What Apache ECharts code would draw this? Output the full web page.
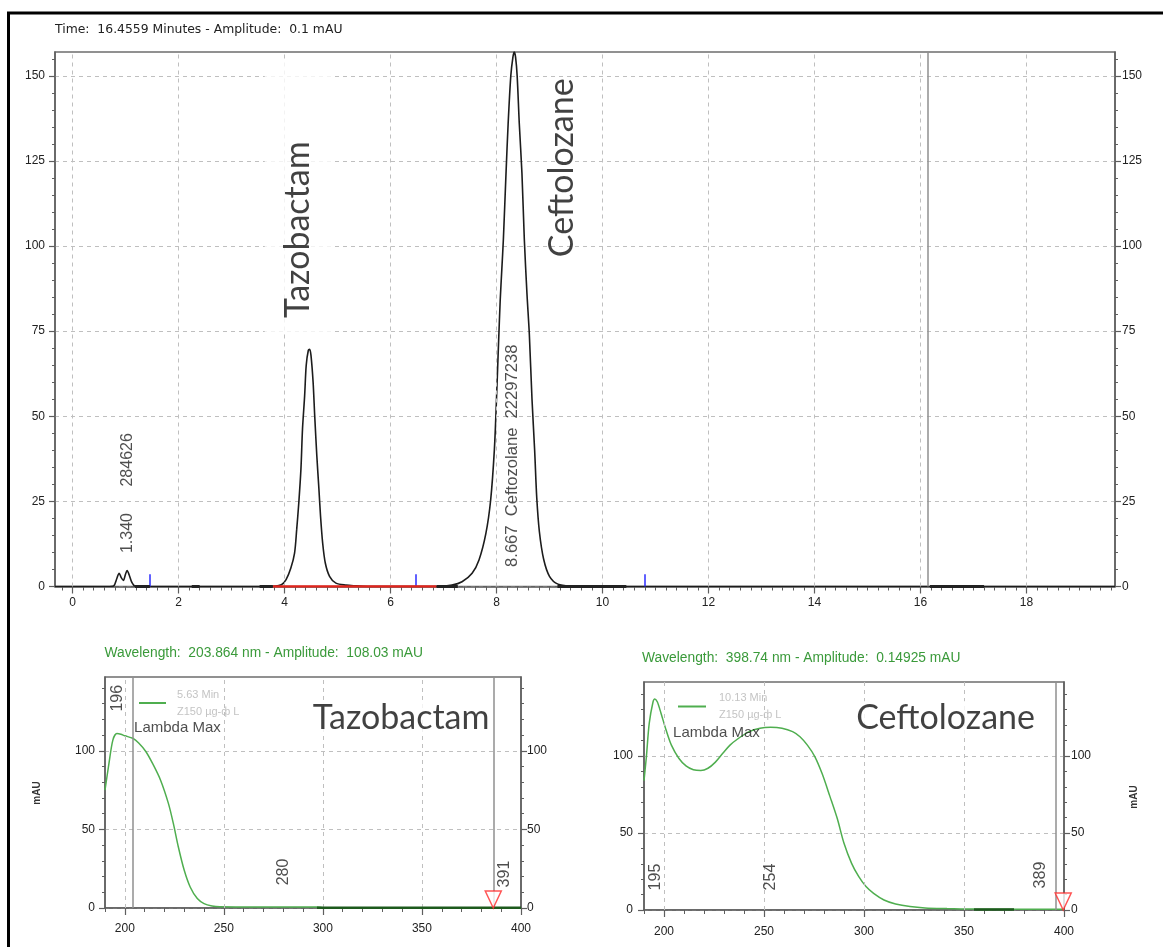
<!DOCTYPE html>
<html><head><meta charset="utf-8">
<script src="https://cdn.jsdelivr.net/npm/echarts@6/dist/echarts.min.js"></script>
<style>html,body{margin:0;padding:0;background:#fff}#c{width:1163px;height:947px}</style>
</head><body><div id="c"></div>
<script>
// ================= DATA =================
// Chromatogram: [time (min), amplitude (mAU)]
const chromPoints = [
  [-0.33,0],[0.70,0],[0.78,0.2],[0.84,2.5],[0.88,3.9],[0.92,2.6],[0.96,1.8],[1.00,3.6],[1.03,4.7],[1.07,3.4],[1.12,1.2],[1.18,0.1],[1.30,0],
  [3.70,0],[3.94,0.5],[4.03,2.0],[4.12,5.4],[4.19,9.8],[4.23,16.7],[4.27,24.6],[4.31,34.4],[4.34,46.3],[4.38,56.0],[4.41,65.0],[4.45,69.4],[4.475,69.7],[4.50,67.9],[4.54,60.0],[4.57,50.2],[4.61,38.4],[4.65,28.5],[4.68,20.7],[4.72,12.8],[4.77,6.9],[4.85,3.0],[4.97,1.0],[5.16,0.4],[5.35,0.2],[5.60,0],
  [6.90,0],[7.16,0.4],[7.35,1.4],[7.54,3.9],[7.67,7.8],[7.80,15.6],[7.89,25.4],[7.96,40.2],[8.00,55.0],[8.04,72.0],[8.07,84.0],[8.10,93.0],[8.13,102.0],[8.18,121.5],[8.22,136.0],[8.27,150.0],[8.31,155.5],[8.335,157.0],[8.36,155.5],[8.39,150.0],[8.43,136.0],[8.48,121.5],[8.525,102.0],[8.575,86.0],[8.62,74.0],[8.67,55.0],[8.72,40.0],[8.76,26.0],[8.81,16.0],[8.89,8.0],[9.00,3.0],[9.16,0.7],[9.44,0.1],[9.70,0],
  [19.67,0]
];
const baselineSegments = [[1.18,1.46],[2.25,2.40],[3.53,3.78],[6.87,7.27],[9.15,10.45],[16.18,17.20]];
const integrationBaseline = [[3.78,6.87]];
const peakMarkerTimes = [1.46, 6.475, 10.79];
const peakMarkerHeight = 3.6;
const cursorTime = 16.13;
const timeRange = [-0.33, 19.67];
const ampMax = 157;
const timeTicks = [0,2,4,6,8,10,12,14,16,18];
const ampTicks = [0,25,50,75,100,125,150];

// UV spectra: [wavelength (nm), amplitude (mAU)]
const tazoSpectrum = [
  [190,75],[192,92],[194,107],[196,111],[198,110.6],[200,109.6],[204,108],[207,105],[210.6,99.6],[214,92],[218,81.5],[222,66.6],[224.5,53.8],[227,39],[230,24],[233,13.4],[236.6,6],[240,2.8],[244,1.3],[248,0.8],[260,0.7],[280,0.7],[297,0.7],[300,0.2],[400,0.2]
];
const ceftoSpectrum = [
  [190,84],[191.2,99.6],[192.6,121],[194.5,135],[195.4,137],[196.7,135],[198.5,127.7],[201,117],[203.7,107],[207.4,98.5],[211,93.5],[214.7,91],[218.4,90.5],[222,92],[225.7,96],[229.4,101.7],[233,107],[236.8,111],[242.6,115.8],[248,118],[253.3,118.6],[259,118],[264.3,115.8],[268,112.5],[271.7,107],[275.4,99.6],[279,88.7],[283,73.6],[286.6,59.5],[290,43.3],[293.8,30.3],[297.4,21.6],[301,15.2],[304.8,10.8],[310,6.5],[315.8,3.9],[323,2.2],[330.5,1.3],[341.5,0.9],[355,0.6],[375,0.5],[400,0.5]
];
const tazoDarkSegments = [[297,400]];
const ceftoDarkSegments = [[355,375]];
const wlRange = [190, 400];
const wlTicks = [200,250,300,350,400];
const wlGrid = [200,250,300,350];
const specAmpTicks = [0,50,100];
const tazoSpecMax = 147, ceftoSpecMax = 148;
const tazoCursors = [203.864, 386];
const ceftoCursors = [396];
const tazoMarkerNm = 386, ceftoMarkerNm = 399.6;

// ================= STYLE / HELPERS =================
const FONT = 'Liberation Sans, Arial, sans-serif';
const AX = '#5e5e5e';
const GRIDC = '#bfbfbf';
const GREEN = '#4fae4f';
const DASH = [4,4];

function range(a, b, step, skip) {
  const out = [];
  for (let v = a; v <= b + 1e-9; v += step) {
    const r = Math.round(v * 1000) / 1000;
    if (!skip || skip.indexOf(r) < 0) out.push(r);
  }
  return out;
}
function segData(segs, y) {
  const d = [];
  segs.forEach(([a, b]) => { d.push([a, y], [b, y], [b, '-']); });
  return d;
}
function xAxes(grid, min, max, major, minor, margin) {
  return [
    {type:'value', gridIndex:grid, min, max, position:'bottom',
     axisLine:{show:true, onZero:false, lineStyle:{color:AX, width:1.5}},
     axisTick:{show:true, customValues:major, length:7, lineStyle:{color:AX, width:1.2}},
     axisLabel:{show:true, customValues:major, margin, color:'#222', fontSize:12, fontFamily:FONT},
     splitLine:{show:false}},
    {type:'value', gridIndex:grid, min, max, position:'bottom',
     axisLine:{show:false, onZero:false},
     axisTick:{show:true, customValues:minor, length:4, lineStyle:{color:AX, width:1}},
     axisLabel:{show:false}, splitLine:{show:false}}
  ];
}
function yAxes(grid, max, interval, major, minor, lm, rm) {
  const mk = (pos, m) => ([
    {type:'value', gridIndex:grid, min:0, max, interval, position:pos,
     axisLine:{show:true, onZero:false, lineStyle:{color:AX, width:1.5}},
     axisTick:{show:true, customValues:major, length:6, lineStyle:{color:AX, width:1.2}},
     axisLabel:{show:true, customValues:major, margin:m, color:'#222', fontSize:12, fontFamily:FONT},
     splitLine:{show: pos === 'left', lineStyle:{color:GRIDC, type:DASH, width:1}}},
    {type:'value', gridIndex:grid, min:0, max, position:pos,
     axisLine:{show:false, onZero:false},
     axisTick:{show:true, customValues:minor, length:3, lineStyle:{color:AX, width:1}},
     axisLabel:{show:false}, splitLine:{show:false}}
  ]);
  return mk('left', lm).concat(mk('right', rm));
}
function vLines(xs, style) {
  return xs.map(v => ({xAxis: v, lineStyle: style}));
}
const dashStyle = {color:GRIDC, type:DASH, width:1};
const cursorStyle = {color:'#8f8f8f', type:'solid', width:1.5};
function helperSeries(xi, yi, x0, lines) {
  return {type:'line', xAxisIndex:xi, yAxisIndex:yi, data:[[x0, 0]], symbol:'none',
    lineStyle:{opacity:0}, silent:true, z:1,
    markLine:{silent:true, symbol:['none','none'], label:{show:false}, animation:false, data:lines}};
}
function textSeries(xi, yi, items) {
  return {type:'scatter', xAxisIndex:xi, yAxisIndex:yi, symbol:'circle', symbolSize:1,
    itemStyle:{color:'rgba(0,0,0,0)'}, silent:true, z:10,
    label:{show:true, position:'inside', color:'#222', fontFamily:FONT, fontSize:16},
    data: items.map(it => ({value:[it[0], it[1]], label:Object.assign({formatter:it[2]}, it[3] || {})}))};
}

// ================= OPTION =================
const chart = echarts.init(document.getElementById('c'), null, {renderer:'canvas'});

const bigFont = {fontFamily:'Lato, Carlito, sans-serif', fontSize:34, color:'#111'};
const rot = {rotate:90};

const option = {
  animation:false,
  backgroundColor:'#fff',
  grid:[
    {left:55, top:52, width:1060, height:534.5, show:true, borderColor:'#6e6e6e', borderWidth:1.5},
    {left:105, top:677, width:416, height:231, show:true, borderColor:'#6e6e6e', borderWidth:1.5},
    {left:644, top:682, width:420, height:228, show:true, borderColor:'#6e6e6e', borderWidth:1.5}
  ],
  xAxis: []
    .concat(xAxes(0, timeRange[0], timeRange[1], timeTicks, range(-0.2, 19.6, 0.2, timeTicks), 10))
    .concat(xAxes(1, wlRange[0], wlRange[1], wlTicks, range(190, 400, 10, wlTicks), 15))
    .concat(xAxes(2, wlRange[0], wlRange[1], wlTicks, range(190, 400, 10, wlTicks), 16)),
  yAxis: []
    .concat(yAxes(0, ampMax, 25, ampTicks, range(5, 155, 5, ampTicks), 10, 7))
    .concat(yAxes(1, tazoSpecMax, 50, specAmpTicks, range(10, 140, 10, specAmpTicks), 10, 6))
    .concat(yAxes(2, ceftoSpecMax, 50, specAmpTicks, range(10, 140, 10, specAmpTicks), 11, 7)),
  legend:[
    {data:[{name:'tazo', icon:'rect'}], left:134, top:681, itemWidth:27, itemHeight:2,
     selectedMode:false, formatter:() => '5.63 Min\nZ150 µg-ф L',
     textStyle:{color:'#c4c4c4', fontSize:11, fontFamily:FONT, lineHeight:17, padding:[0,0,0,6]}},
    {data:[{name:'cefto', icon:'rect'}], left:673, top:684, itemWidth:28, itemHeight:2,
     selectedMode:false, formatter:() => '10.13 Min\nZ150 µg-ф L',
     textStyle:{color:'#c4c4c4', fontSize:11, fontFamily:FONT, lineHeight:17.5, padding:[0,0,0,8]}}
  ],
  series:[
    // ---------- chromatogram ----------
    helperSeries(0, 0, timeRange[0], vLines(timeTicks, dashStyle).concat(vLines([cursorTime], cursorStyle))),
    {type:'line', xAxisIndex:0, yAxisIndex:0, data:chromPoints, symbol:'none', smooth:0.3,
     lineStyle:{color:'#1c1c1c', width:1.6}, silent:true, z:4},
    {type:'line', xAxisIndex:0, yAxisIndex:0, data:segData(integrationBaseline, 0), symbol:'none',
     lineStyle:{color:'#e3241c', width:2.5}, silent:true, z:6},
    {type:'line', xAxisIndex:0, yAxisIndex:0, data:segData(baselineSegments, 0), symbol:'none',
     lineStyle:{color:'#222', width:3}, silent:true, z:6},
    {type:'line', xAxisIndex:0, yAxisIndex:0, data:[[timeRange[0], 0]], symbol:'none', lineStyle:{opacity:0}, silent:true, z:7,
     markLine:{silent:true, symbol:['none','none'], label:{show:false}, animation:false,
       lineStyle:{color:'#2b2bff', type:'solid', width:1.5},
       data: peakMarkerTimes.map(t => [{coord:[t, 0]}, {coord:[t, peakMarkerHeight]}])}},
    textSeries(0, 0, [
      [4.26, 114.5, 'Tazobactam', Object.assign({}, bigFont, rot, {backgroundColor:'#fff', lineHeight:40, padding:[15,80,12,14]})],
      [9.245, 123, 'Ceftolozane', Object.assign({}, bigFont, rot)],
      [1.046, 37.2, '284626', rot],
      [1.046, 15.7, '1.340', rot],
      [8.30, 38.4, '8.667  Ceftozolane  22297238', Object.assign({fontSize:16.6}, rot)]
    ]),
    // ---------- Tazobactam spectrum ----------
    helperSeries(2, 4, wlRange[0], vLines(wlGrid, dashStyle).concat(vLines(tazoCursors, cursorStyle))),
    {name:'tazo', type:'line', xAxisIndex:2, yAxisIndex:4, data:tazoSpectrum, symbol:'none', smooth:0.3,
     color:GREEN, lineStyle:{color:GREEN, width:1.5}, silent:true, z:4},
    {type:'line', xAxisIndex:2, yAxisIndex:4, data:segData(tazoDarkSegments, 0.2), symbol:'none',
     lineStyle:{color:'#1d5a1d', width:2.5}, silent:true, z:5},
    {type:'scatter', xAxisIndex:2, yAxisIndex:4, data:[[tazoMarkerNm, 0]], symbol:'triangle', symbolRotate:180,
     symbolSize:[16,17], symbolOffset:[0,-8.5], itemStyle:{color:'#fff', borderColor:'#ff2a2a', borderWidth:1.5}, silent:true, z:6},
    textSeries(2, 4, [
      [339.5, 120.8, 'Tazobactam', Object.assign({}, bigFont, {backgroundColor:'#fff', padding:[0,2]})],
      [196.2, 133.5, '196', rot],
      [280, 22.9, '280', rot],
      [391.6, 21.6, '391', rot],
      [203.9, 114.4, 'Lambda Max', {position:'right', distance:1, fontSize:15}]
    ]),
    // ---------- Ceftolozane spectrum ----------
    helperSeries(4, 8, wlRange[0], vLines(wlGrid, dashStyle).concat(vLines(ceftoCursors, cursorStyle))),
    {name:'cefto', type:'line', xAxisIndex:4, yAxisIndex:8, data:ceftoSpectrum, symbol:'none', smooth:0.3,
     color:GREEN, lineStyle:{color:GREEN, width:1.5}, silent:true, z:4},
    {type:'line', xAxisIndex:4, yAxisIndex:8, data:segData(ceftoDarkSegments, 0.3), symbol:'none',
     lineStyle:{color:'#1d5a1d', width:2.5}, silent:true, z:5},
    {type:'scatter', xAxisIndex:4, yAxisIndex:8, data:[[ceftoMarkerNm, 0]], symbol:'triangle', symbolRotate:180,
     symbolSize:[16,17], symbolOffset:[0,-8.5], itemStyle:{color:'#fff', borderColor:'#ff2a2a', borderWidth:1.5}, silent:true, z:6},
    textSeries(4, 8, [
      [340.8, 124.7, 'Ceftolozane', Object.assign({}, bigFont, {backgroundColor:'#fff', padding:[0,2]})],
      [195.9, 21.4, '195', rot],
      [253.3, 21.4, '254', rot],
      [388.3, 22.7, '389', rot],
      [203.8, 115, 'Lambda Max', {position:'right', distance:1, fontSize:15}]
    ])
  ],
  graphic:[
    {type:'rect', shape:{x:8.5, y:13, width:1170, height:950}, style:{fill:'none', stroke:'#000', lineWidth:3}, z:100, silent:true},
    {type:'text', x:55, y:30, style:{text:'Time:  16.4559 Minutes - Amplitude:  0.1 mAU', font:'12.4px "DejaVu Sans"', fill:'#222', verticalAlign:'middle'}},
    {type:'text', x:104.5, y:653, style:{text:'Wavelength:  203.864 nm - Amplitude:  108.03 mAU', font:'13.8px "Liberation Sans"', fill:'#3a9a3a', verticalAlign:'middle'}},
    {type:'text', x:642, y:658, style:{text:'Wavelength:  398.74 nm - Amplitude:  0.14925 mAU', font:'13.8px "Liberation Sans"', fill:'#3a9a3a', verticalAlign:'middle'}},
    {type:'text', x:37, y:793, rotation:Math.PI/2, style:{text:'mAU', font:'bold 10px "Liberation Sans"', fill:'#333', align:'center', verticalAlign:'middle'}},
    {type:'text', x:1134, y:797, rotation:Math.PI/2, style:{text:'mAU', font:'bold 10px "Liberation Sans"', fill:'#333', align:'center', verticalAlign:'middle'}}
  ]
};
chart.setOption(option);
</script>
</body></html>
